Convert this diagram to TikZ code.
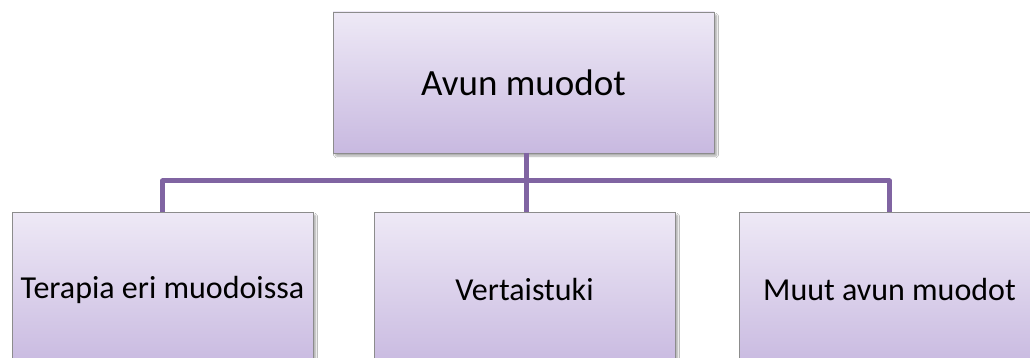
\documentclass[tikz,border=0pt]{standalone}
\usepackage{fontspec}
\setmainfont{Carlito}
\usetikzlibrary{shadows.blur}
\definecolor{boxtop}{RGB}{238,233,246}
\definecolor{boxbot}{RGB}{200,185,224}
\definecolor{boxedge}{RGB}{140,140,140}
\definecolor{link}{RGB}{128,100,162}
\tikzset{
  orgbox/.style={draw=boxedge, line width=0.9pt, top color=boxtop, bottom color=boxbot,
    inner sep=0pt, outer sep=0pt, align=center, text=black,
    blur shadow={shadow xshift=2.5pt, shadow yshift=-3pt, shadow blur steps=6,
      shadow blur extra rounding=1pt, shadow opacity=35}},
  headbox/.style={orgbox, minimum width=381pt, minimum height=141pt,
    font=\fontsize{37}{44}\selectfont},
  itembox/.style={orgbox, minimum width=301pt, minimum height=156pt,
    font=\fontsize{32}{38}\selectfont},
  linkline/.style={draw=link, line width=5pt, line join=round}
}
\begin{document}
\begin{tikzpicture}[x=1pt, y=-1pt]
  \useasboundingbox (0,0) rectangle (1030,358);
  \clip (0,0) rectangle (1030,358);
  \fill[white] (0,0) rectangle (1030,358);

  % connector bus
  \coordinate (bus) at (526,181);
  \coordinate (busL) at (162.5,181);
  \coordinate (busR) at (889.5,181);

  % boxes
  \node[headbox] (head) at (523.5,82.5) {Avun muodot};
  \node[itembox] (ther) at (162.5,290) {Terapia eri muodoissa};
  \node[itembox] (peer) at (524.5,290) {Vertaistuki};
  \node[itembox] (other) at (889.5,290) {Muut avun muodot};

  % connectors
  \draw[linkline] (head.south -| bus) -- (bus);
  \draw[linkline] (ther.north) -- (busL) -- (busR) -- (other.north);
  \draw[linkline] (bus) -- (peer.north -| bus);
\end{tikzpicture}
\end{document}
